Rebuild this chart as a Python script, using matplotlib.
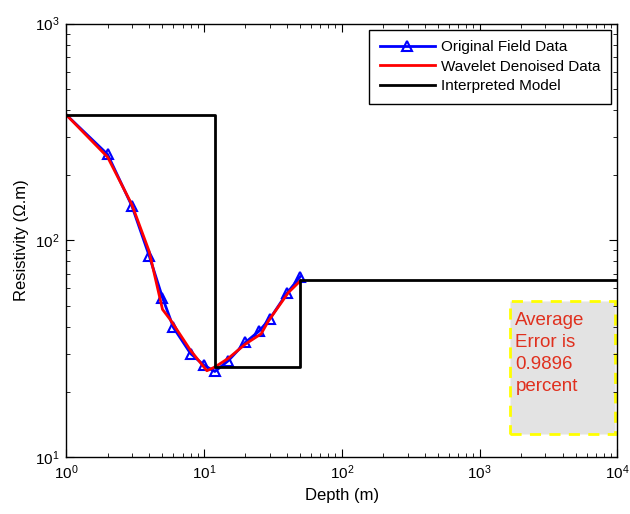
import numpy as np
import matplotlib
matplotlib.use("Agg")
import matplotlib.pyplot as plt

plt.rcParams['font.family'] = ['Liberation Sans', 'DejaVu Sans']
plt.rcParams['mathtext.default'] = 'regular'

# original field data
depth_obs = [1, 2, 3, 4, 5, 6, 8, 10, 12, 15, 20, 25, 30, 40, 50]
rho_obs = [380, 249, 144, 85, 54.4, 39.6, 30, 26.5, 24.8, 27.8, 33.8, 38, 43.3, 57, 68]

# wavelet denoised
depth_dn = [1, 2, 3, 4, 5, 5.7, 8, 10.5, 12, 15, 20, 26, 29.4, 41, 50]
rho_dn = [380, 242, 146, 89, 48, 43, 31, 25, 26, 28.5, 33.2, 37, 42.5, 57.4, 65]

# interpreted layered model
layer_top = [1, 12, 50]
layer_rho = [380, 26, 65.5]
max_depth = 1e4

mx = []
my = []
bounds = layer_top[1:] + [max_depth]
for top, bot, r in zip(layer_top, bounds, layer_rho):
    mx += [top, bot]
    my += [r, r]

fig = plt.figure(figsize=(6.3, 5.14), dpi=100)
ax = fig.add_axes([0.105, 0.111, 0.875, 0.843])

ax.plot(depth_obs, rho_obs, color='#0000ff', lw=2, marker='^', ms=7.5,
        mfc='none', mec='#0000ff', mew=1.5, markevery=list(range(1, len(depth_obs))),
        label='Original Field Data')
ax.plot(depth_dn, rho_dn, color='#ff0000', lw=2, label='Wavelet Denoised Data')
ax.plot(mx, my, color='black', lw=2, label='Interpreted Model')

ax.set_xscale('log')
ax.set_yscale('log')
ax.set_xlim(1, 1e4)
ax.set_ylim(10, 1e3)
ax.set_xlabel('Depth (m)', fontsize=12)
ax.set_ylabel('Resistivity (\u03a9.m)', fontsize=12)
ax.tick_params(which='both', direction='in', top=True, right=True, labelsize=11)
ax.tick_params(which='major', length=6, pad=5)
ax.tick_params(which='minor', length=3)
for s in ax.spines.values():
    s.set_linewidth(1)

leg = ax.legend(loc='upper right', fontsize=11, handlelength=3.6,
                handletextpad=0.4, fancybox=False, edgecolor='black',
                framealpha=1, borderaxespad=0.4, borderpad=0.7,
                labelspacing=0.35)
leg.get_frame().set_linewidth(1)

ax.text(0.815, 0.335, 'Average\nError is\n0.9896\npercent', transform=ax.transAxes,
        fontsize=13.5, color='#e0301e', va='top', ha='left', linespacing=1.4)
ax.add_patch(plt.Rectangle((0.806, 0.053), 0.19, 0.307, transform=ax.transAxes,
                           facecolor='#e3e3e3', edgecolor='#ffff00', lw=2,
                           ls=(0, (4, 3)), zorder=1))

fig.savefig('out.png')
